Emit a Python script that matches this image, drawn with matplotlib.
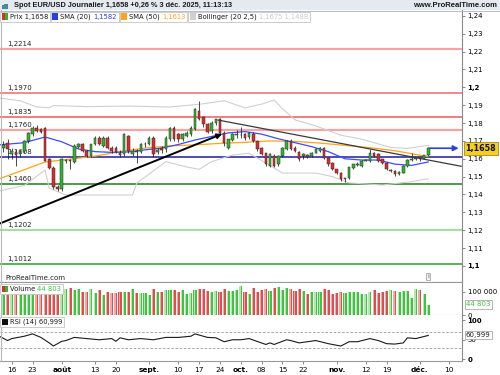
import matplotlib
matplotlib.use("Agg")
import matplotlib.pyplot as plt
from matplotlib.patches import Rectangle
import numpy as np

# ---------------- data ----------------
# daily candles, index 0 = 14 Jul 2025 ... 102 = 3 Dec 2025
opens = [1.1660,1.1686,1.1628,1.1640,1.1625,1.1644,1.1700,1.1738,1.1772,1.1768,
         1.1775,1.1597,1.1550,1.1442,1.1430,1.1590,1.1592,1.1580,1.1668,1.1681,
         1.1644,1.1616,1.1681,1.1719,1.1672,1.1719,1.1663,1.1660,1.1630,1.1625,
         1.1728,1.1625,1.1645,1.1640,1.1680,1.1681,1.1719,1.1640,1.1662,1.1655,
         1.1709,1.1775,1.1738,1.1709,1.1728,1.1738,1.1766,1.1869,1.1832,1.1794,
         1.1756,1.1798,1.1822,1.1747,1.1663,1.1705,1.1734,1.1732,1.1738,1.1722,
         1.1740,1.1700,1.1663,1.1630,1.1560,1.1616,1.1569,1.1616,1.1653,1.1700,
         1.1663,1.1640,1.1616,1.1620,1.1616,1.1635,1.1644,1.1663,1.1606,1.1578,
         1.1541,1.1522,1.1485,1.1494,1.1550,1.1566,1.1560,1.1590,1.1588,1.1631,
         1.1625,1.1597,1.1578,1.1531,1.1533,1.1515,1.1522,1.1560,1.1595,1.1597,
         1.1608,1.1600,1.1619]
closes = [1.1675,1.1653,1.1644,1.1620,1.1640,1.1700,1.1747,1.1775,1.1756,1.1752,
          1.1590,1.1550,1.1440,1.1432,1.1597,1.1592,1.1590,1.1672,1.1685,1.1644,
          1.1616,1.1681,1.1719,1.1681,1.1719,1.1663,1.1644,1.1638,1.1620,1.1738,
          1.1644,1.1645,1.1640,1.1681,1.1685,1.1719,1.1625,1.1650,1.1648,1.1719,
          1.1775,1.1709,1.1709,1.1738,1.1747,1.1775,1.1878,1.1822,1.1794,1.1752,
          1.1803,1.1822,1.1747,1.1691,1.1709,1.1738,1.1736,1.1735,1.1719,1.1742,
          1.1700,1.1653,1.1625,1.1569,1.1625,1.1560,1.1616,1.1663,1.1700,1.1653,
          1.1644,1.1597,1.1625,1.1612,1.1635,1.1653,1.1663,1.1606,1.1569,1.1541,
          1.1522,1.1485,1.1490,1.1552,1.1569,1.1572,1.1588,1.1595,1.1635,1.1616,
          1.1588,1.1578,1.1541,1.1535,1.1513,1.1528,1.1560,1.1595,1.1597,1.1606,
          1.1597,1.1619,1.1658]
highs = [1.1700,1.1709,1.1660,1.1655,1.1650,1.1705,1.1752,1.1785,1.1790,1.1775,
         1.1780,1.1605,1.1560,1.1455,1.1605,1.1598,1.1600,1.1680,1.1690,1.1690,
         1.1650,1.1685,1.1725,1.1725,1.1725,1.1728,1.1672,1.1670,1.1650,1.1745,
         1.1735,1.1660,1.1655,1.1690,1.1695,1.1725,1.1725,1.1660,1.1670,1.1725,
         1.1780,1.1785,1.1745,1.1745,1.1755,1.1785,1.1882,1.1925,1.1840,1.1800,
         1.1810,1.1825,1.1828,1.1755,1.1712,1.1742,1.1760,1.1780,1.1745,1.1750,
         1.1748,1.1705,1.1668,1.1635,1.1630,1.1625,1.1620,1.1668,1.1705,1.1712,
         1.1670,1.1645,1.1632,1.1628,1.1640,1.1658,1.1668,1.1668,1.1610,1.1582,
         1.1545,1.1525,1.1495,1.1556,1.1573,1.1580,1.1592,1.1600,1.1653,1.1636,
         1.1630,1.1600,1.1582,1.1540,1.1538,1.1532,1.1563,1.1600,1.1635,1.1612,
         1.1612,1.1622,1.1668]
lows = [1.1640,1.1597,1.1600,1.1560,1.1610,1.1635,1.1690,1.1730,1.1750,1.1745,
        1.1585,1.1540,1.1430,1.1420,1.1420,1.1575,1.1540,1.1575,1.1660,1.1640,
        1.1610,1.1610,1.1675,1.1675,1.1665,1.1655,1.1635,1.1630,1.1610,1.1615,
        1.1635,1.1615,1.1578,1.1635,1.1665,1.1675,1.1610,1.1625,1.1635,1.1640,
        1.1700,1.1700,1.1695,1.1700,1.1720,1.1730,1.1760,1.1815,1.1780,1.1745,
        1.1745,1.1790,1.1740,1.1670,1.1655,1.1700,1.1715,1.1715,1.1705,1.1710,
        1.1695,1.1645,1.1620,1.1560,1.1552,1.1555,1.1560,1.1610,1.1648,1.1648,
        1.1638,1.1590,1.1600,1.1605,1.1610,1.1630,1.1640,1.1600,1.1562,1.1535,
        1.1515,1.1478,1.1470,1.1488,1.1545,1.1560,1.1555,1.1585,1.1582,1.1610,
        1.1582,1.1572,1.1535,1.1525,1.1505,1.1508,1.1518,1.1555,1.1590,1.1595,
        1.1590,1.1598,1.1615]
volumes = [103,107,112,100,106,103,109,103,100,106,
           114,109,114,106,129,112,114,106,112,97,
           97,112,94,106,86,97,93,94,97,97,
           97,112,94,94,94,86,112,97,97,106,
           106,106,100,106,92,94,109,113,112,103,
           100,103,97,112,103,103,106,123,97,89,
           117,97,107,112,103,114,120,107,117,112,
           103,112,103,90,97,97,97,112,109,89,
           93,97,93,97,97,97,92,89,97,106,
           94,97,103,107,103,97,103,103,72,112,
           106,89,44.803]

sma20_idx = [-1, 5, 10, 14, 18, 22, 26, 30, 34, 38, 42, 46, 50, 54, 58, 62, 66, 70, 74, 78, 82, 86, 90, 94, 98, 102]
sma20_val = [1.1678,1.1690,1.1722,1.1695,1.1655,1.1640,1.1636,1.1638,1.1650,1.1660,1.1680,1.1705,
             1.1725,1.1745,1.1752,1.1738,1.1712,1.1690,1.1668,1.1640,1.1600,1.1593,1.1593,1.1570,1.1563,1.1582]
sma50_idx = [-1, 4, 10, 16, 22, 28, 34, 40, 46, 52, 58, 64, 70, 76, 82, 88, 94, 100, 102]
sma50_val = [1.1488,1.1530,1.1582,1.1598,1.1615,1.1640,1.1660,1.1672,1.1678,1.1686,1.1692,1.1700,
             1.1697,1.1688,1.1675,1.1662,1.1645,1.1620,1.1613]
bbup_idx = [-1, 4, 8, 11, 12, 20, 30, 40, 47, 53, 58, 62, 65, 67, 70, 75, 81, 86, 93, 97, 102]
bbup_val = [1.1940,1.1925,1.1890,1.1886,1.1898,1.1892,1.1895,1.1890,1.1905,1.1925,1.1885,1.1906,
            1.1929,1.1880,1.1818,1.1784,1.1732,1.1710,1.1663,1.1658,1.1675]
bblo_idx = [-1, 5, 10, 11, 15, 31, 32, 39, 44, 47, 50, 55, 59, 63, 67, 75, 79, 83, 91, 98, 102]
bblo_val = [1.1420,1.1450,1.1537,1.1435,1.1397,1.1397,1.1463,1.1584,1.1554,1.1541,1.1584,1.1621,
            1.1631,1.1576,1.1520,1.1520,1.1500,1.1465,1.1453,1.1472,1.1488]
rsi_idx = [-1, 1, 2, 5, 7, 9, 11, 12, 14, 15, 17, 20, 23, 26, 27, 28, 30, 33, 36, 39, 42, 45, 46,
           49, 51, 53, 55, 57, 59, 63, 64, 65, 68, 69, 71, 75, 78, 81, 83, 85, 88, 90, 92, 94, 96,
           97, 99, 102]
rsi_val = [59, 48, 53, 59, 65, 56, 42, 34, 46, 48, 56, 53, 50, 53, 46, 55, 50, 53, 50, 56, 56, 59, 65,
           56, 55, 45, 50, 50, 53, 38, 42, 38, 50, 48, 42, 48, 40, 34, 45, 45, 53, 48, 40, 39, 42,
           55, 53, 61]

level_vals = [1.2214, 1.1970, 1.1835, 1.1760, 1.1608, 1.1460, 1.1202, 1.1012]
level_labels = ["1,2214", "1,1970", "1,1835", "1,1760", "1,1608", "1,1460", "1,1202", "1,1012"]
level_colors = ["#f5a3a3", "#f06a6a", "#ee5a5a", "#f5a3a3", "#1c1c9c", "#1f7a1f", "#a6dca6", "#2e9a2e"]
level_widths = [1.6, 1.1, 1.1, 1.6, 1.1, 1.1, 1.6, 1.1]

support_line = ([-0.8, 52.5], [1.1238, 1.1739])
resist_line = ([51.5, 109.9], [1.1817, 1.1558])
last_arrow = ([102.4, 109.3], [1.1659, 1.1659])

xtick_idx = [2, 7, 14, 22, 27, 35, 42, 47, 52, 57, 62, 67, 72, 80, 87, 92, 100, 107]
xtick_lab = ["16", "23", "août", "13", "20", "sept.", "10", "17", "24", "oct.", "08", "15", "22",
             "nov.", "12", "19", "déc.", "10"]
month_labels = {"août", "sept.", "oct.", "nov.", "déc."}

price_ticks = [1.10, 1.11, 1.12, 1.13, 1.14, 1.15, 1.16, 1.17, 1.18, 1.19, 1.20, 1.21, 1.22, 1.23, 1.24]

# ---------------- figure ----------------
W, H = 500, 375
fig = plt.figure(figsize=(5, 3.75), dpi=100)
fig.patch.set_facecolor("white")

def rect(x0, y0, x1, y1):
    return [x0 / W, 1 - y1 / H, (x1 - x0) / W, (y1 - y0) / H]

XR = 462
XLIM = (-0.82, 110.1)
FS = 5.0
HEAD_FONT = "Liberation Sans"

def style_ax(ax):
    ax.set_facecolor("white")
    for s in ["top", "left"]:
        ax.spines[s].set_visible(False)
    ax.spines["right"].set_color("#8a8a8a")
    ax.spines["right"].set_linewidth(0.8)
    ax.spines["bottom"].set_color("#9a9a9a")
    ax.spines["bottom"].set_linewidth(0.8)
    ax.yaxis.tick_right()
    ax.tick_params(axis="y", direction="out", length=2.5, width=0.6, color="#777777",
                   labelsize=FS, pad=1.5)
    ax.set_xlim(*XLIM)

# main price panel
ax = fig.add_axes(rect(0, 10, XR, 282))
style_ax(ax)
ax.set_ylim(1.0910, 1.2433)
ax.set_xticks([])
ax.set_yticks(price_ticks)
ax.set_yticklabels([("%.2f" % t).rstrip("0").replace(".", ",") for t in price_ticks])
for lab, t in zip(ax.get_yticklabels(), price_ticks):
    if abs(t - 1.2) < 1e-9 or abs(t - 1.1) < 1e-9:
        lab.set_fontweight("bold")

# horizontal levels
for v, lab, c, w in zip(level_vals, level_labels, level_colors, level_widths):
    ax.axhline(v, color=c, lw=w, zorder=1)
    ax.text(1.0, v + 0.0012, lab, fontsize=FS, color="#222222", va="bottom", ha="left", zorder=2)

# bollinger + sma
ax.plot(bbup_idx, bbup_val, color="#d0d0d0", lw=0.8, zorder=2)
ax.plot(bblo_idx, bblo_val, color="#d0d0d0", lw=0.8, zorder=2)
ax.plot(sma50_idx, sma50_val, color="#ffa31a", lw=0.9, zorder=3)
ax.plot(sma20_idx, sma20_val, color="#3b4cff", lw=0.9, zorder=3)

# candles
idx = np.arange(len(opens))
o = np.array(opens); c = np.array(closes)
up = c >= o
ax.vlines(idx, lows, highs, color="#1a1a1a", lw=0.55, zorder=4)
body_h = np.maximum(np.abs(c - o), 0.00025)
body_b = np.minimum(o, c)
cols = np.where(up, "#2fb52f", "#e02b2b")
ax.bar(idx, body_h, bottom=body_b, width=0.62, color=cols, edgecolor="#2a2a2a",
       linewidth=0.35, zorder=5)

# trend lines
ax.plot(resist_line[0], resist_line[1], color="#3a3a3a", lw=0.9, zorder=6)
ax.annotate("", xy=(support_line[0][1], support_line[1][1]),
            xytext=(support_line[0][0], support_line[1][0]),
            arrowprops=dict(arrowstyle="-|>", color="black", lw=1.4, mutation_scale=7,
                            shrinkA=0, shrinkB=0), zorder=6)
ax.annotate("", xy=(last_arrow[0][1], last_arrow[1][1]),
            xytext=(last_arrow[0][0], last_arrow[1][0]),
            arrowprops=dict(arrowstyle="-|>", color="#2b3fe0", lw=1.2, mutation_scale=8,
                            shrinkA=0, shrinkB=0), zorder=6, annotation_clip=False)

ax.text(0.5, 1.0933, "ProRealTime.com", fontsize=FS, color="#222222", ha="left", va="center")
ax.text(102.0, 1.0942, "i", fontsize=4.5, color="#555555", ha="center", va="center",
        bbox=dict(boxstyle="square,pad=0.15", fc="#f0f0f0", ec="#999999", lw=0.5))

# volume panel
axv = fig.add_axes(rect(0, 282, XR, 315))
style_ax(axv)
axv.set_ylim(0, 141.6)
axv.set_xticks([])
axv.set_yticks([100, 0])
axv.set_yticklabels(["100 000", "0"])
axv.spines["top"].set_visible(True)
axv.spines["top"].set_color("#9a9a9a")
axv.spines["top"].set_linewidth(0.8)
vol = np.array(volumes)
vcol = np.where(up, "#3fc43f", "#de4e4e")
vlight = np.where(up, "#aeeaae", "#f3a8a8")
axv.bar(idx, vol, width=0.74, color=vcol, linewidth=0, zorder=2)
axv.bar(idx - 0.2, vol, width=0.3, color=vlight, linewidth=0, zorder=3)

# rsi panel
axr = fig.add_axes(rect(0, 315, XR, 361))
style_ax(axr)
axr.set_ylim(-4.25, 113.25)
axr.set_yticks([100, 50, 0])
axr.set_yticklabels(["100", "50", "0"])
for lab in axr.get_yticklabels():
    if lab.get_text() in ("100", "0"):
        lab.set_fontweight("bold")
axr.axhline(70, color="#9a9a9a", lw=0.6, ls=(0, (3, 2)))
axr.axhline(30, color="#9a9a9a", lw=0.6, ls=(0, (3, 2)))
axr.plot(rsi_idx, rsi_val, color="#1a1a1a", lw=0.8)
axr.set_xticks(xtick_idx)
axr.set_xticklabels(xtick_lab)
axr.tick_params(axis="x", direction="out", length=2.5, width=0.6, color="#777777",
                labelsize=FS + 0.3, pad=1.5)
for lab in axr.get_xticklabels():
    if lab.get_text() in month_labels:
        lab.set_fontweight("bold")

# left border line
fig.lines.append(plt.Line2D([0.6 / W, 0.6 / W], [1 - 361 / H, 1 - 10 / H], transform=fig.transFigure,
                            color="#b8b8b8", lw=0.8))

# ---------------- header / legends ----------------
fig.patches.append(Rectangle((0, 1 - 10 / H), 1, 10 / H, transform=fig.transFigure,
                             fc="#e4eaf0", ec="none", zorder=0))
fig.lines.append(plt.Line2D([0, 1], [1 - 10.5 / H, 1 - 10.5 / H], transform=fig.transFigure,
                            color="#a8b4c0", lw=0.6))
for k, hh in enumerate([3, 5, 4]):
    fig.patches.append(Rectangle(((2 + 2.2 * k) / W, 1 - 8.5 / H), 1.5 / W, hh / H,
                                 transform=fig.transFigure, fc=["#4a7fd0", "#3aa53a", "#4a7fd0"][k],
                                 ec="none"))
fig.text(14 / W, 1 - 5.3 / H, "Spot EUR/USD Journalier 1,1658 +0,26 % 3 déc. 2025, 11:13:13",
         fontsize=5.3, fontweight="bold", family=HEAD_FONT, color="#1a1a1a", va="center", ha="left")
fig.text(497 / W, 1 - 5.3 / H, "www.ProRealTime.com", fontsize=5.5, fontweight="bold",
         family=HEAD_FONT, color="#1a1a1a", va="center", ha="right")

fig.canvas.draw()
renderer = fig.canvas.get_renderer()
LFS = 4.85

def legend_box(x0, ytop, parts, icon_cols, box_h=10):
    """parts: list of (text, color). draws box with icon and texts."""
    yc = ytop + box_h / 2
    x = x0 + 9.5
    for s, col in parts:
        t = fig.text(x / W, 1 - yc / H, s, fontsize=LFS, color=col, va="center", ha="left", zorder=11)
        bb = t.get_window_extent(renderer)
        x += bb.width
    x1 = x + 2
    fig.patches.append(Rectangle((x0 / W, 1 - (ytop + box_h) / H), (x1 - x0) / W, box_h / H,
                                 transform=fig.transFigure, fc="white", ec="#c4c4c4",
                                 lw=0.6, zorder=10))
    n = len(icon_cols)
    for k, ic in enumerate(icon_cols):
        fig.patches.append(Rectangle(((x0 + 1.5 + k * 6 / n) / W, 1 - (yc + 3) / H), (6 / n) / W,
                                     6 / H, transform=fig.transFigure, fc=ic, ec="none", zorder=11))
    return x1

xx = legend_box(0, 11.5, [("Prix 1,1658", "#1a1a1a")], ["#e02b2b", "#2fb52f"])
xx = legend_box(xx + 1, 11.5, [("SMA (20) ", "#1a1a1a"), ("1,1582", "#2b3fe0")], ["#2b3fe0"])
xx = legend_box(xx + 1, 11.5, [("SMA (50) ", "#1a1a1a"), ("1,1613", "#ffa31a")], ["#ffa31a"])
xx = legend_box(xx + 1, 11.5, [("Bollinger (20 2,5) ", "#1a1a1a"), ("1,1675 1,1488", "#c8c8c8")],
                ["#d0d0d0"])
legend_box(0, 284, [("Volume ", "#1a1a1a"), ("44 803", "#3fc43f")], ["#e02b2b", "#2fb52f"])
legend_box(0, 317, [("RSI (14) 60,999", "#1a1a1a")], ["#111111"])

# right-side value boxes
fig.text(481 / W, 1 - 148.5 / H, "1,1658", fontsize=5.8, fontweight="bold", color="#111111",
         ha="center", va="center", zorder=12,
         bbox=dict(boxstyle="square,pad=0.25", fc="#f5cf1c", ec="#8a7a20", lw=0.5))
fig.text(466 / W, 1 - 304.5 / H, "44 803", fontsize=FS, color="#3fc43f", ha="left", va="center",
         zorder=12, bbox=dict(boxstyle="square,pad=0.2", fc="white", ec="#999999", lw=0.5))
fig.text(466 / W, 1 - 335 / H, "60,999", fontsize=FS, color="#1a1a1a", ha="left", va="center",
         zorder=12, bbox=dict(boxstyle="square,pad=0.2", fc="white", ec="#999999", lw=0.5))

fig.savefig("out.png", dpi=100)
